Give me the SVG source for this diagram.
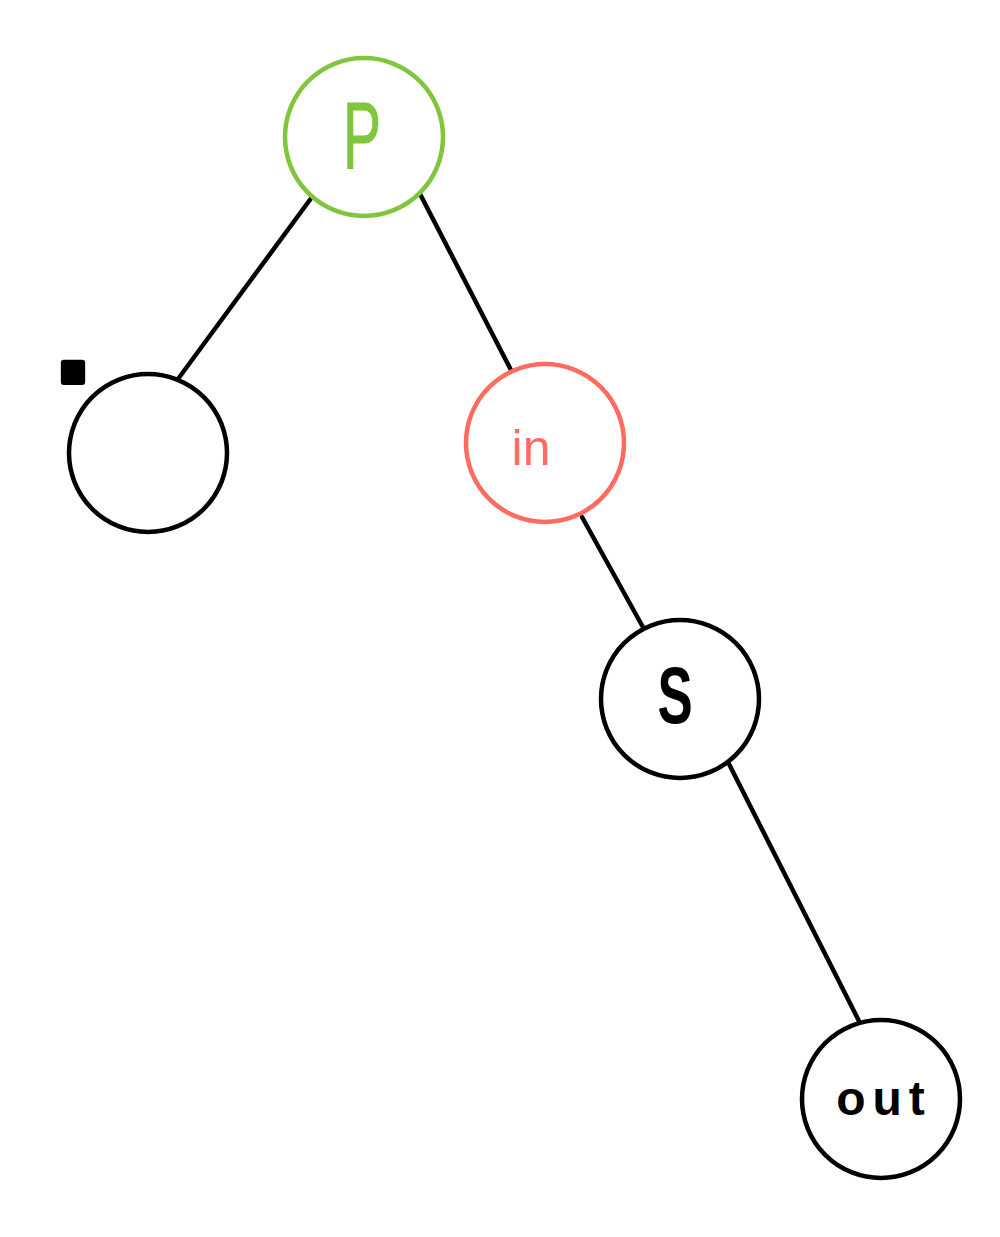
<svg xmlns="http://www.w3.org/2000/svg" width="1000" height="1237" viewBox="0 0 1000 1237">
<style>
.node{fill:#ffffff;stroke-width:4.5}
.blk{stroke:#000000}
.lbl{font-family:"Liberation Sans",Arial,sans-serif;text-anchor:middle}
.edge{stroke:#000000;stroke-width:4.5;stroke-linecap:round;fill:none}
</style>
<rect width="1000" height="1237" fill="#ffffff"/>
<g id="connectors">
<line class="edge" x1="312" y1="197" x2="178" y2="379"/>
<line class="edge" x1="419" y1="192" x2="511" y2="370"/>
<line class="edge" x1="582" y1="517" x2="644" y2="629"/>
<line class="edge" x1="729" y1="764" x2="859" y2="1021"/>
</g>
<g id="node-p">
<circle class="node" cx="364" cy="137" r="79" stroke="#80c63c"/>
<text class="lbl" transform="translate(362,168) scale(0.6,1)" font-size="95" fill="#80c63c" stroke="#80c63c" stroke-width="1">P</text>
</g>
<g id="node-empty">
<circle class="node blk" cx="148" cy="453" r="79"/>
<text class="lbl" x="73" y="382" font-size="130" font-weight="bold" fill="#000000" stroke="#000000" stroke-width="6" stroke-linejoin="round">.</text>
</g>
<g id="node-in">
<circle class="node" cx="545" cy="443" r="79" stroke="#ff6b5f"/>
<text class="lbl" x="531" y="465" font-size="50" fill="#ff6b5f">in</text>
</g>
<g id="node-s">
<circle class="node blk" cx="680" cy="699" r="79"/>
<text class="lbl" transform="translate(675,723) scale(0.66,1)" font-size="80" font-weight="bold" fill="#000000">S</text>
</g>
<g id="node-out">
<circle class="node blk" cx="881" cy="1099" r="79"/>
<text class="lbl" x="884" y="1115" font-size="48" font-weight="bold" letter-spacing="7" fill="#000000">out</text>
</g>
</svg>
